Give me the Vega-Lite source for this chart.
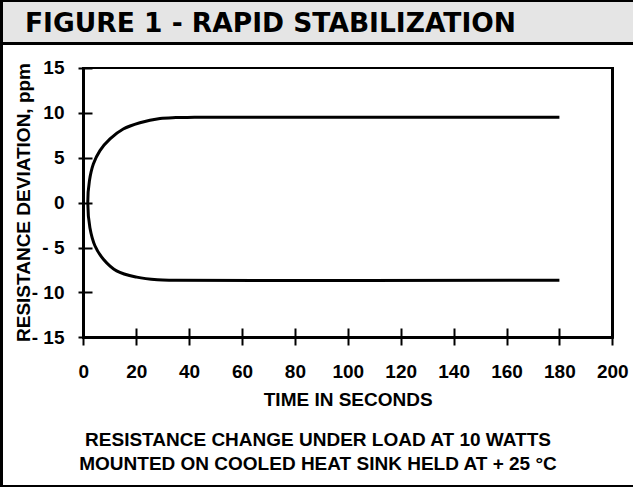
{
  "$schema": "https://vega.github.io/schema/vega-lite/v6.json",
  "background": "black",
  "padding": {"left": 3, "top": 2, "right": 0, "bottom": 2},
  "spacing": 3,
  "config": {
    "view": {"stroke": null},
    "font": "Liberation Sans",
    "axis": {"grid": false, "domain": false}
  },
  "vconcat": [
    {
      "width": 630,
      "height": 40,
      "view": {"fill": "#e5e5e5", "stroke": null},
      "data": {"values": [{"label": "FIGURE 1 - RAPID STABILIZATION", "pos": 0}]},
      "mark": {"type": "text", "align": "left", "baseline": "middle", "dx": 22, "dy": 2, "font": "DejaVu Sans", "fontSize": 26.5, "fontWeight": "bold", "color": "black"},
      "encoding": {
        "x": {"field": "pos", "type": "quantitative", "scale": {"domain": [0, 1]}, "axis": null},
        "text": {"field": "label", "type": "nominal"}
      }
    },
    {
      "width": 630,
      "height": 440,
      "view": {"fill": "white", "stroke": null},
      "title": {
        "text": ["RESISTANCE CHANGE UNDER LOAD AT 10 WATTS", "MOUNTED ON COOLED HEAT SINK HELD AT + 25 °C"],
        "orient": "bottom",
        "anchor": "middle",
        "frame": "group",
        "offset": -54,
        "baseline": "top",
        "lineHeight": 24,
        "font": "Liberation Sans",
        "fontSize": 19,
        "fontWeight": "bold",
        "color": "black"
      },
      "data": {"values": [
        {"i": 1, "seconds": 180, "ppm": 9.5},
        {"i": 2, "seconds": 42, "ppm": 9.5},
        {"i": 3, "seconds": 35, "ppm": 9.48},
        {"i": 4, "seconds": 29, "ppm": 9.38},
        {"i": 5, "seconds": 21.4, "ppm": 8.9},
        {"i": 6, "seconds": 15.1, "ppm": 8.2},
        {"i": 7, "seconds": 10.1, "ppm": 7.1},
        {"i": 8, "seconds": 6.3, "ppm": 5.8},
        {"i": 9, "seconds": 3.8, "ppm": 4.3},
        {"i": 10, "seconds": 2.3, "ppm": 2.4},
        {"i": 11, "seconds": 1.7, "ppm": 0},
        {"i": 12, "seconds": 2.5, "ppm": -2.8},
        {"i": 13, "seconds": 4.4, "ppm": -4.8},
        {"i": 14, "seconds": 7.6, "ppm": -6.3},
        {"i": 15, "seconds": 12.6, "ppm": -7.6},
        {"i": 16, "seconds": 20.2, "ppm": -8.3},
        {"i": 17, "seconds": 28, "ppm": -8.6},
        {"i": 18, "seconds": 35, "ppm": -8.65},
        {"i": 19, "seconds": 180, "ppm": -8.65}
      ]},
      "layer": [
        {
          "mark": {"type": "rect", "fill": null, "stroke": "black", "strokeWidth": 2},
          "encoding": {
            "x": {"datum": 0, "type": "quantitative"},
            "x2": {"datum": 200},
            "y": {"datum": -15, "type": "quantitative"},
            "y2": {"datum": 15}
          }
        },
        {
          "mark": {"type": "line", "color": "black", "strokeWidth": 3, "interpolate": "catmull-rom"},
          "encoding": {
            "x": {
              "field": "seconds", "type": "quantitative",
              "scale": {"domain": [-30.359, 207.826], "nice": false, "zero": false},
              "axis": {
                "orient": "bottom", "offset": -157, "values": [0, 20, 40, 60, 80, 100, 120, 140, 160, 180, 200],
                "tickSize": 17, "tickWidth": 2, "tickColor": "black",
                "labelFont": "Liberation Sans", "labelFontSize": 19, "labelFontWeight": "bold", "labelColor": "black",
                "labelBaseline": "middle", "labelPadding": 26, "labelFlush": false, "labelOverlap": false,
                "title": "TIME IN SECONDS", "titleFont": "Liberation Sans", "titleFontSize": 19, "titleFontWeight": "bold", "titleColor": "black",
                "titleX": 344.7, "titleY": 77, "titleBaseline": "alphabetic", "titleAlign": "center"
              }
            },
            "y": {
              "field": "ppm", "type": "quantitative",
              "scale": {"domain": [-31.454, 17.562], "nice": false, "zero": false},
              "axis": {
                "orient": "left", "offset": -89, "values": [-15, -10, -5, 0, 5, 10, 15],
                "labelExpr": "datum.value < 0 ? '- ' + abs(datum.value) : datum.label",
                "tickSize": 14, "tickWidth": 2, "tickColor": "black",
                "labelFont": "Liberation Sans", "labelFontSize": 19, "labelFontWeight": "bold", "labelColor": "black",
                "labelPadding": 14, "labelFlush": false, "labelOverlap": false,
                "title": "RESISTANCE DEVIATION, ppm", "titleFont": "Liberation Sans", "titleFontSize": 19, "titleFontWeight": "bold", "titleColor": "black",
                "titleX": -63, "titleY": 157, "titleAngle": -90, "titleBaseline": "alphabetic", "titleAlign": "center"
              }
            },
            "order": {"field": "i", "type": "quantitative"}
          }
        }
      ]
    }
  ]
}
